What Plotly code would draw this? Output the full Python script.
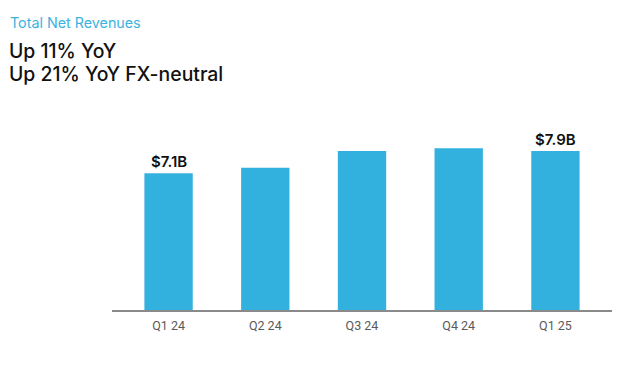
import plotly.graph_objects as go

categories = ["Q1 24", "Q2 24", "Q3 24", "Q4 24", "Q1 25"]
revenues = [7.1, 7.3, 7.9, 8.0, 7.9]
bar_labels = ["$7.1B", "", "", "", "$7.9B"]

title_text = "Total Net Revenues"
subtitle_lines = ["Up 11% YoY", "Up 21% YoY FX-neutral"]

BAR_COLOR = "#33b1de"
W, H = 638, 372
L, R, T, B = 112, 26, 110, 62
plot_h = H - T - B

fig = go.Figure()
fig.add_trace(go.Bar(
    x=categories, y=revenues,
    marker=dict(color=BAR_COLOR, line=dict(width=0)),
    width=0.5,
    hoverinfo="skip",
))

for c, v, lab in zip(categories, revenues, bar_labels):
    if lab:
        fig.add_annotation(x=c, y=v, text=lab, showarrow=False,
                           yanchor="bottom", yshift=0,
                           font=dict(family="Inter", size=15, color="#111111", weight=600))

def px_to_paper_x(px):
    return (px - L) / (W - L - R)

def px_to_paper_y(py):
    return (H - B - py) / plot_h

fig.add_annotation(xref="paper", yref="paper", x=px_to_paper_x(8), y=px_to_paper_y(12),
                   xanchor="left", yanchor="top", text=title_text, showarrow=False,
                   font=dict(family="Inter", size=14.3, color="#3bb3e0"))
for i, line in enumerate(subtitle_lines):
    fig.add_annotation(xref="paper", yref="paper", x=px_to_paper_x(7), y=px_to_paper_y(37 + 22.5 * i),
                       xanchor="left", yanchor="top", text=line,
                       showarrow=False, align="left",
                       font=dict(family="Inter", size=19.4, color="#111111", weight=500))

fig.update_layout(
    width=W, height=H,
    margin=dict(l=L, r=R, t=T, b=B),
    paper_bgcolor="white", plot_bgcolor="white",
    showlegend=False,
    xaxis=dict(range=[-0.585, 4.585], showgrid=False, zeroline=False,
               showline=True, linecolor="#8a8a8a", linewidth=1.5,
               ticks="", ticklabelstandoff=3,
               tickfont=dict(family="Roboto", size=12.5, color="#5a5a5a")),
    yaxis=dict(range=[2.2, 2.2 + plot_h / 27.9], visible=False, showgrid=False),
)

fig.write_html("out.html", config={"displayModeBar": False},
               post_script="document.body.style.margin='0';")
